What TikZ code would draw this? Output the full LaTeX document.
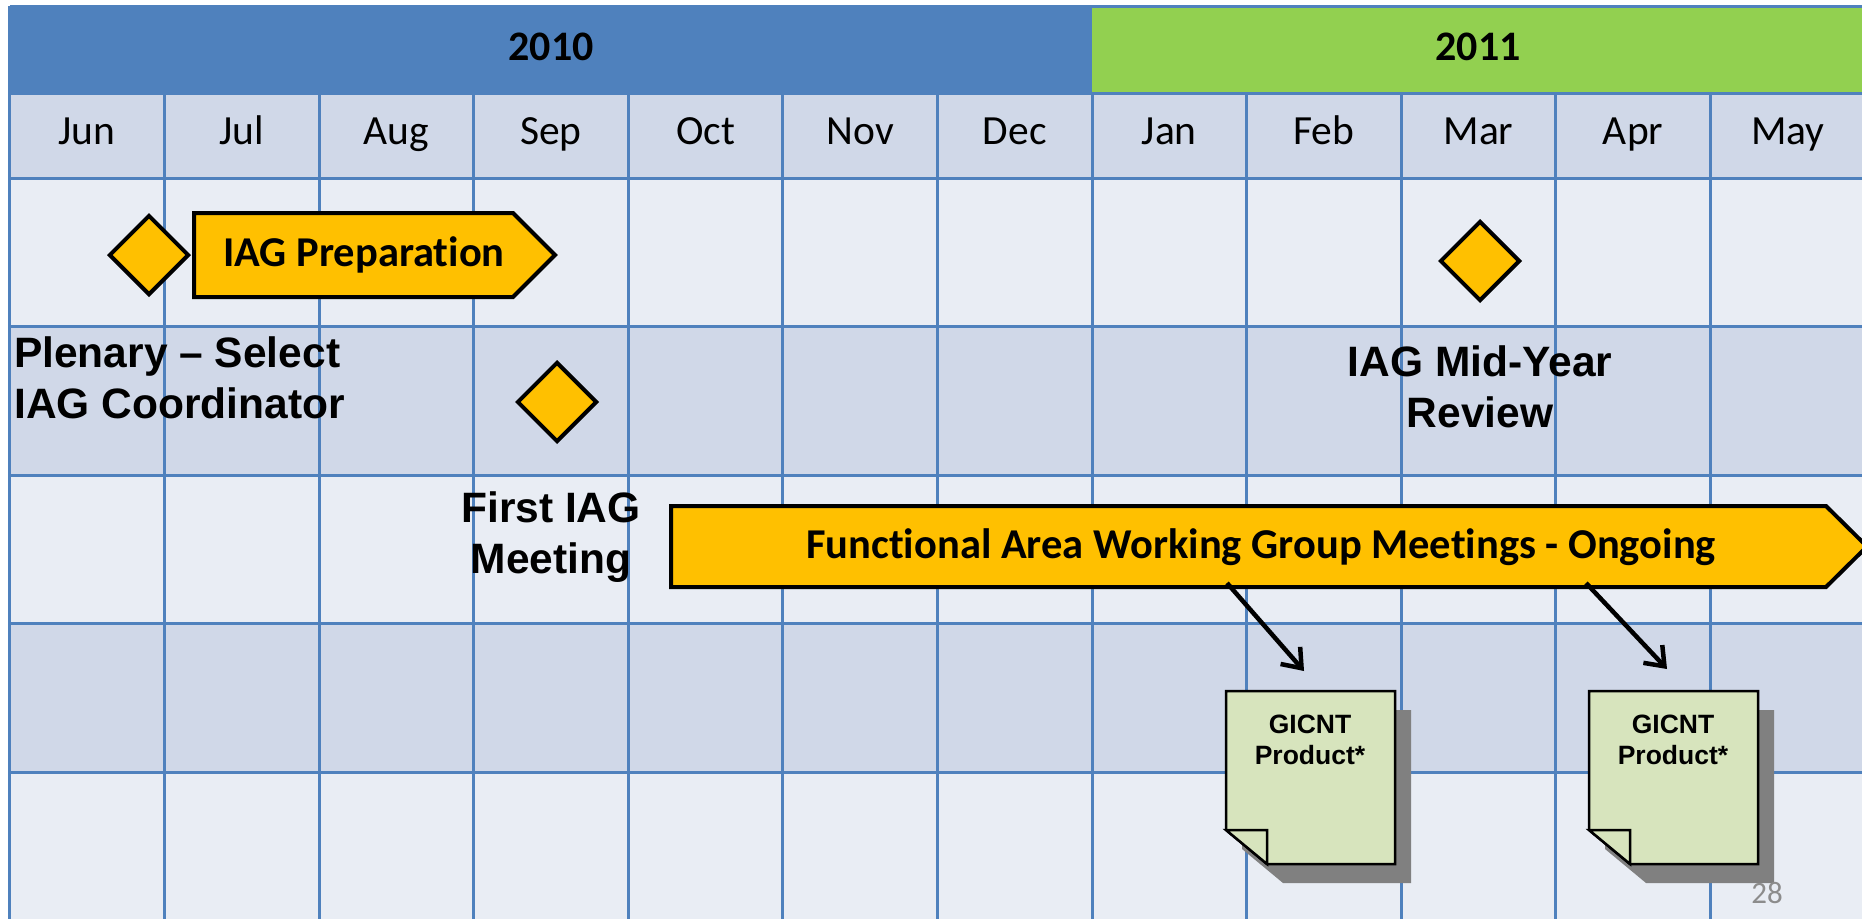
\documentclass[tikz,border=0pt]{standalone}
\usepackage{fontspec}
\setmainfont[RawFeature={-liga}]{Carlito}
\newfontfamily\arialfont[Ligatures=TeX]{Liberation Sans}
\usetikzlibrary{arrows.meta,shapes.geometric,calc}
\definecolor{gridblue}{HTML}{4F81BD}
\definecolor{yrgreen}{HTML}{92D050}
\definecolor{rowlight}{HTML}{E9EDF4}
\definecolor{rowdark}{HTML}{D0D8E8}
\definecolor{gold}{HTML}{FFC000}
\definecolor{notegreen}{HTML}{D7E4BD}
\definecolor{shadowgray}{HTML}{808080}
\definecolor{pagegray}{HTML}{8C8C8C}
\tikzset{
  gridline/.style={draw=gridblue, line width=3},
  monthlabel/.style={font=\fontsize{41.5}{49}\selectfont, inner sep=0, anchor=base},
  yearlabel/.style={font=\fontsize{42}{49}\selectfont\bfseries, inner sep=0, anchor=base},
  milestone/.style={diamond, aspect=1, draw=black, fill=gold, line width=4,
    minimum width=80, minimum height=80, inner sep=0},
  barshape/.style={draw=black, fill=gold, line width=4, line join=miter},
  bartext/.style={font=\fontsize{42.5}{49}\selectfont\bfseries, inner sep=0},
  eventtext/.style={font=\arialfont\bfseries\fontsize{42.5}{51}\selectfont, inner sep=0},
  notebody/.style={draw=black, fill=notegreen, line width=2.5, line join=miter},
  noteshadow/.style={fill=shadowgray},
  notetext/.style={font=\arialfont\bfseries\fontsize{26.5}{31}\selectfont, align=center, inner sep=0},
  conn/.style={draw=black, line width=4.5, -{Straight Barb[length=17, width=26, line width=4.5]}},
}
\begin{document}
\begin{tikzpicture}[x=1pt,y=-1pt]
\useasboundingbox (0,0) rectangle (1862,918);
\fill[white] (0,0) rectangle (1862,918);
\begin{scope}
\clip (0,0) rectangle (1862,918);
% header and row fills
\fill[gridblue] (9.8,6) rectangle (1092,93);
\fill[yrgreen] (1092,6) rectangle (1866,93);
\fill[rowdark] (9.8,93) rectangle (1866,178);
\fill[rowlight] (9.8,178) rectangle (1866,326.5);
\fill[rowdark] (9.8,326.5) rectangle (1866,475);
\fill[rowlight] (9.8,475) rectangle (1866,623.5);
\fill[rowdark] (9.8,623.5) rectangle (1866,772);
\fill[rowlight] (9.8,772) rectangle (1866,922);
% grid lines
\foreach \yy in {6,93,178,326.5,475,623.5,772}
  \draw[gridline] (9.8,\yy) -- (1866,\yy);
\draw[gridline] (9.8,6) -- (9.8,922);
\foreach \i in {1,...,11}
  \draw[gridline] (9.8+154.6*\i,93) -- (9.8+154.6*\i,922);
% year labels
\node[yearlabel] (y2010) at (551,60.5) {2010};
\node[yearlabel] (y2011) at (1478,60.5) {2011};
% month labels
\foreach \m [count=\i from 0] in {Jun,Jul,Aug,Sep,Oct,Nov,Dec,Jan,Feb,Mar,Apr,May}
  \node[monthlabel] (m\i) at (9.8+154.6*\i+77.3,144.5) {\m};
% milestones
\node[milestone] (plenary) at (149,255) {};
\node[milestone] (firstmtg) at (557,402) {};
\node[milestone] (midyear) at (1480,261) {};
% IAG Preparation bar
\draw[barshape] (194,213) -- (513,213) -- (555,255) -- (513,297) -- (194,297) -- cycle;
\node[bartext] (prep) at (364,255) {IAG Preparation};
% Functional area bar
\draw[barshape] (671,506) -- (1826,506) -- (1867,546.5) -- (1826,587) -- (671,587) -- cycle;
\node[bartext] (fawg) at (1261,547) {Functional Area Working Group Meetings - Ongoing};
% event labels
\node[eventtext, anchor=west, align=left] (plenarytxt) at (14,378) {Plenary – Select\\IAG Coordinator};
\node[eventtext, align=center] (firsttxt) at (551,537) {First IAG\\Meeting};
\node[eventtext, align=center] (midtxt) at (1480,387) {IAG Mid-Year\\Review};
% notes
\foreach \nx/\nm in {1226/note1, 1589/note2}{
  \fill[noteshadow] (\nx+16,691+19) -- (\nx+169+16,691+19) -- (\nx+169+16,864+19) -- (\nx+41+16,864+19) -- (\nx+16,830+19) -- cycle;
  \draw[notebody] (\nx,691) -- (\nx+169,691) -- (\nx+169,864) -- (\nx+41,864) -- (\nx,830) -- cycle;
  \draw[notebody] (\nx,830) -- (\nx+41,830) -- (\nx+41,864) -- cycle;
  \node[notetext] (\nm) at (\nx+84,740) {GICNT\\Product*};
}
% connectors
\coordinate (fa1) at (1227,583);
\coordinate (fa2) at (1586,583);
\coordinate (note1top) at (1304,671);
\coordinate (note2top) at (1667,669);
\draw[conn] (fa1) -- (note1top);
\draw[conn] (fa2) -- (note2top);
% page number
\node[font=\fontsize{31}{37}\selectfont, text=pagegray, inner sep=0] (pagenum) at (1767,893) {28};
\end{scope}
\end{tikzpicture}
\end{document}
